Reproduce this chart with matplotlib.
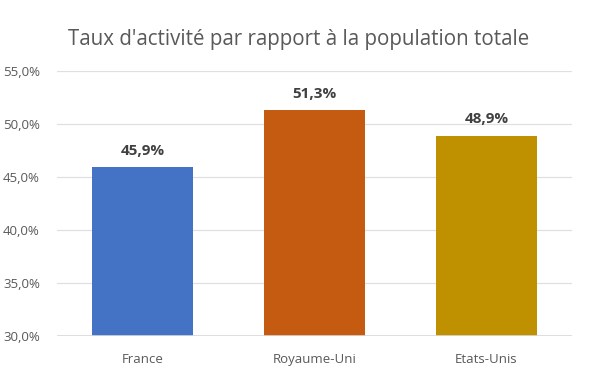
import matplotlib.pyplot as plt
from matplotlib.ticker import FuncFormatter

pays = ['France', 'Royaume-Uni', 'Etats-Unis']
taux = [45.9, 51.3, 48.9]
couleurs = ['#4472C4', '#C55A11', '#BF9000']
yticks = [30, 35, 40, 45, 50, 55]

plt.rcParams['font.family'] = ['Open Sans', 'DejaVu Sans']

fig = plt.figure(figsize=(5.98, 3.81), dpi=100)
ax = fig.add_axes([0.0945, 0.118, 0.8625, 0.696])

x = range(len(pays))
ax.bar(x, taux, width=0.59, color=couleurs, bottom=0, zorder=2)
ax.set_ylim(30, 55)
ax.set_xlim(-0.5, len(pays) - 0.5)
ax.set_yticks(yticks)
ax.yaxis.set_major_formatter(FuncFormatter(lambda v, p: f"{v:.1f}%".replace('.', ',')))
ax.set_xticks(list(x))
ax.set_xticklabels(pays)

for xi, v in zip(x, taux):
    ax.text(xi, v + 0.9, f"{v:.1f}%".replace('.', ','), ha='center', va='bottom',
            fontsize=11, fontweight='bold', color='#404040')

ax.grid(axis='y', color='#E0E0E0', linewidth=0.9, zorder=0)
ax.axhline(30, color='#D9D9D9', linewidth=1.2, zorder=3)
for s in ax.spines.values():
    s.set_visible(False)
ax.tick_params(axis='both', length=0, colors='#595959', labelsize=9.5)
ax.tick_params(axis='y', pad=12)
ax.tick_params(axis='x', pad=12)

fig.text(0.5, 0.897, "Taux d'activité par rapport à la population totale",
         ha='center', va='center', fontsize=14.8, color='#595959')

fig.savefig('out.png', dpi=100)
